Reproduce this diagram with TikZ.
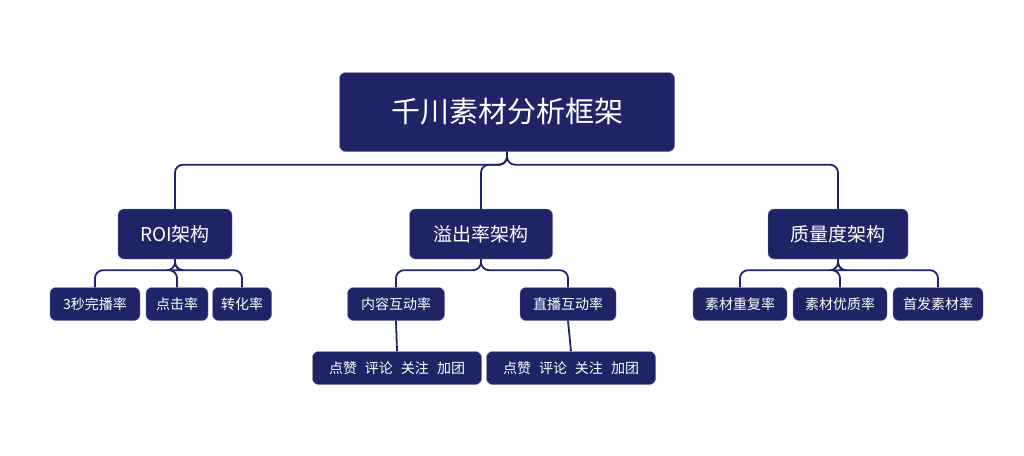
\documentclass[tikz,border=0pt]{standalone}
\usepackage{fontspec}
\setmainfont{Noto Sans CJK SC}
\definecolor{navy}{HTML}{1F2466}
\tikzset{
    box/.style={fill=navy, draw=navy!60, text=white, rounded corners=6pt,
        inner sep=0pt, align=center},
    link/.style={draw=navy, line width=1.8pt, rounded corners=8pt},
}
\begin{document}
\begin{tikzpicture}[x=1pt, y=-1pt]
    \useasboundingbox (0,0) rectangle (1024,455);
    % root
    \node[box, minimum width=335pt, minimum height=79pt, font=\fontsize{29}{32}\selectfont] (root) at (507,112) {千川素材分析框架};
    % second level
    \node[box, minimum width=114pt, minimum height=50pt, font=\fontsize{19}{22}\selectfont] (roi) at (175,234) {ROI架构};
    \node[box, minimum width=143pt, minimum height=50pt, font=\fontsize{19}{22}\selectfont] (yichu) at (481,234) {溢出率架构};
    \node[box, minimum width=140pt, minimum height=50pt, font=\fontsize{19}{22}\selectfont] (zhiliang) at (838,234) {质量度架构};
    % third level
    \tikzset{leaf/.style={box, minimum height=33pt, font=\fontsize{14}{16}\selectfont}}
    \node[leaf, minimum width=90pt] (wanbo) at (95,304) {3秒完播率};
    \node[leaf, minimum width=62pt] (dianji) at (177,304) {点击率};
    \node[leaf, minimum width=59pt] (zhuanhua) at (242,304) {转化率};
    \node[leaf, minimum width=97pt] (neirong) at (396,304) {内容互动率};
    \node[leaf, minimum width=96pt] (zhibo) at (568,304) {直播互动率};
    \node[leaf, minimum width=94pt] (chongfu) at (740,304) {素材重复率};
    \node[leaf, minimum width=94pt] (youzhi) at (840,304) {素材优质率};
    \node[leaf, minimum width=90pt] (shoufa) at (938,304) {首发素材率};
    % fourth level
    \node[leaf, minimum width=169pt] (hudongA) at (397,368) {点赞\hspace{8pt}评论\hspace{8pt}关注\hspace{8pt}加团};
    \node[leaf, minimum width=169pt] (hudongB) at (571,368) {点赞\hspace{8pt}评论\hspace{8pt}关注\hspace{8pt}加团};
    % connectors
    \begin{scope}[on background layer/.style={}]
    \foreach \child in {roi, yichu, zhiliang}
        \draw[link] (root.south) -- ++(0,13) -| (\child.north);
    \foreach \child in {wanbo, dianji, zhuanhua}
        \draw[link] (roi.south) -- ++(0,11) -| (\child.north);
    \foreach \child in {neirong, zhibo}
        \draw[link] (yichu.south) -- ++(0,11) -| (\child.north);
    \foreach \child in {chongfu, youzhi, shoufa}
        \draw[link] (zhiliang.south) -- ++(0,11) -| (\child.north);
    \draw[link] (neirong.south) -- (hudongA.north);
    \draw[link] (zhibo.south) -- (hudongB.north);
    \end{scope}
\end{tikzpicture}
\end{document}
